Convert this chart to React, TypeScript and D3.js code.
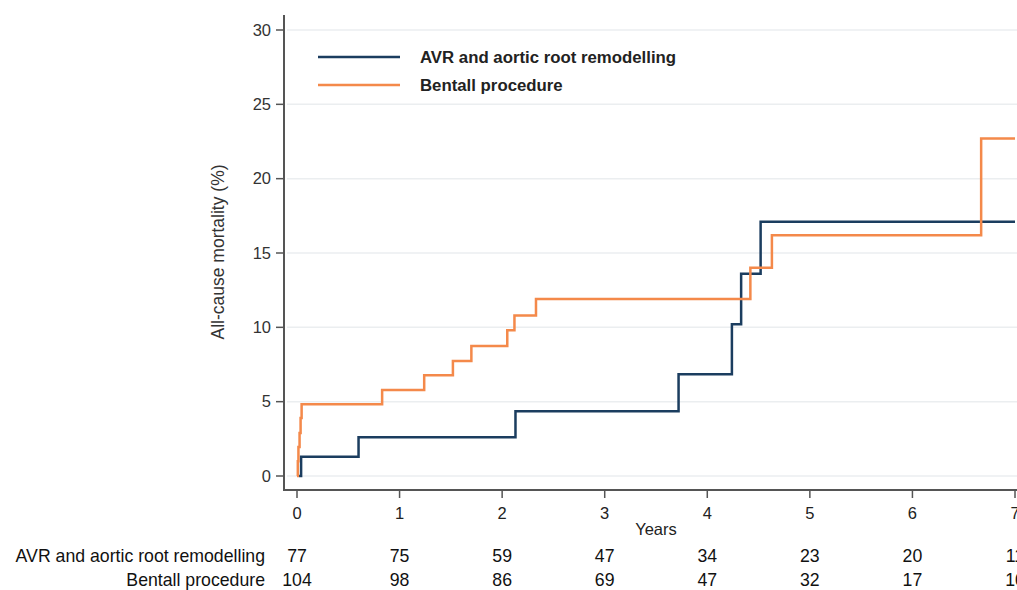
import React from 'react';
import * as d3 from 'd3';

// Kaplan-Meier style step data: [years, cumulative mortality %]
const avrSteps: [number, number][] = [
  [0.02, 0], [0.04, 1.3], [0.6, 2.6], [2.13, 4.35], [3.72, 6.85],
  [4.24, 10.2], [4.33, 13.6], [4.52, 17.1], [7, 17.1],
];
const bentallSteps: [number, number][] = [
  [0, 0], [0.008, 1.0], [0.014, 1.95], [0.025, 2.9], [0.035, 3.9], [0.045, 4.83],
  [0.83, 5.78], [1.24, 6.78], [1.52, 7.73], [1.7, 8.75], [2.05, 9.8], [2.12, 10.8],
  [2.33, 11.9], [4.42, 14.0], [4.63, 16.2], [6.67, 22.7], [7, 22.7],
];

const yTicks = [0, 5, 10, 15, 20, 25, 30];
const xTicks = [0, 1, 2, 3, 4, 5, 6, 7];
const groups = ['AVR and aortic root remodelling', 'Bentall procedure'];
const avrAtRisk = [77, 75, 59, 47, 34, 23, 20, 11];
const bentallAtRisk = [104, 98, 86, 69, 47, 32, 17, 10];

const colors = ['#1b3d5f', '#f4894a'];

export default function App() {
  const x = d3.scaleLinear().domain([0, 7]).range([297, 1015]);
  const y = d3.scaleLinear().domain([0, 30]).range([476, 30]);
  const line = d3.line<[number, number]>()
    .x(d => x(d[0]))
    .y(d => y(d[1]))
    .curve(d3.curveStepAfter);

  const sans = "'Liberation Sans', Arial, sans-serif";

  return (
    <svg width={1017} height={590} style={{ position: 'absolute', left: 0, top: 0, background: '#fff' }}>
      {/* grid */}
      {yTicks.map(t => (
        <line key={'g' + t} x1={287} x2={1017} y1={y(t)} y2={y(t)} stroke="#ebeef0" strokeWidth={1.5} />
      ))}
      {/* y axis */}
      <line x1={284} x2={284} y1={15} y2={491} stroke="#555" strokeWidth={2} />
      {yTicks.map(t => (
        <g key={'y' + t}>
          <line x1={276} x2={284} y1={y(t)} y2={y(t)} stroke="#555" strokeWidth={1.5} />
          <text x={271} y={y(t)} dy="0.35em" textAnchor="end" fontFamily={sans} fontSize={16.5} fill="#333">{t}</text>
        </g>
      ))}
      <text transform="translate(224,252) rotate(-90)" textAnchor="middle" fontFamily={sans} fontSize={17.5} fill="#333">
        All-cause mortality (%)
      </text>
      {/* x axis */}
      <line x1={283} x2={1017} y1={490} y2={490} stroke="#555" strokeWidth={2} />
      {xTicks.map(t => (
        <g key={'x' + t}>
          <line x1={x(t)} x2={x(t)} y1={490} y2={498} stroke="#555" strokeWidth={1.5} />
          <text x={x(t)} y={513} dy="0.35em" textAnchor="middle" fontFamily={sans} fontSize={16.5} fill="#222">{t}</text>
        </g>
      ))}
      <text x={656} y={529} dy="0.35em" textAnchor="middle" fontFamily={sans} fontSize={16.5} fill="#222">Years</text>

      {/* curves */}
      <path d={line(avrSteps) || ''} fill="none" stroke={colors[0]} strokeWidth={2.5} />
      <path d={line(bentallSteps) || ''} fill="none" stroke={colors[1]} strokeWidth={2.5} />

      {/* legend */}
      {groups.map((g, i) => (
        <g key={g}>
          <line x1={318} x2={400} y1={57 + i * 28} y2={57 + i * 28} stroke={colors[i]} strokeWidth={2.5} />
          <text x={420} y={57 + i * 28} dy="0.35em" fontFamily={sans} fontSize={16.8} fontWeight="bold" fill="#222">{g}</text>
        </g>
      ))}

      {/* number at risk */}
      {[avrAtRisk, bentallAtRisk].map((row, i) => (
        <g key={'r' + i}>
          <text x={265} y={556 + i * 24} dy="0.35em" textAnchor="end" fontFamily={sans} fontSize={17.7} fill="#111">{groups[i]}</text>
          {row.map((v, j) => (
            <text key={j} x={x(xTicks[j])} y={556 + i * 24} dy="0.35em" textAnchor="middle" fontFamily={sans} fontSize={17.7} fill="#111">{v}</text>
          ))}
        </g>
      ))}
    </svg>
  );
}
